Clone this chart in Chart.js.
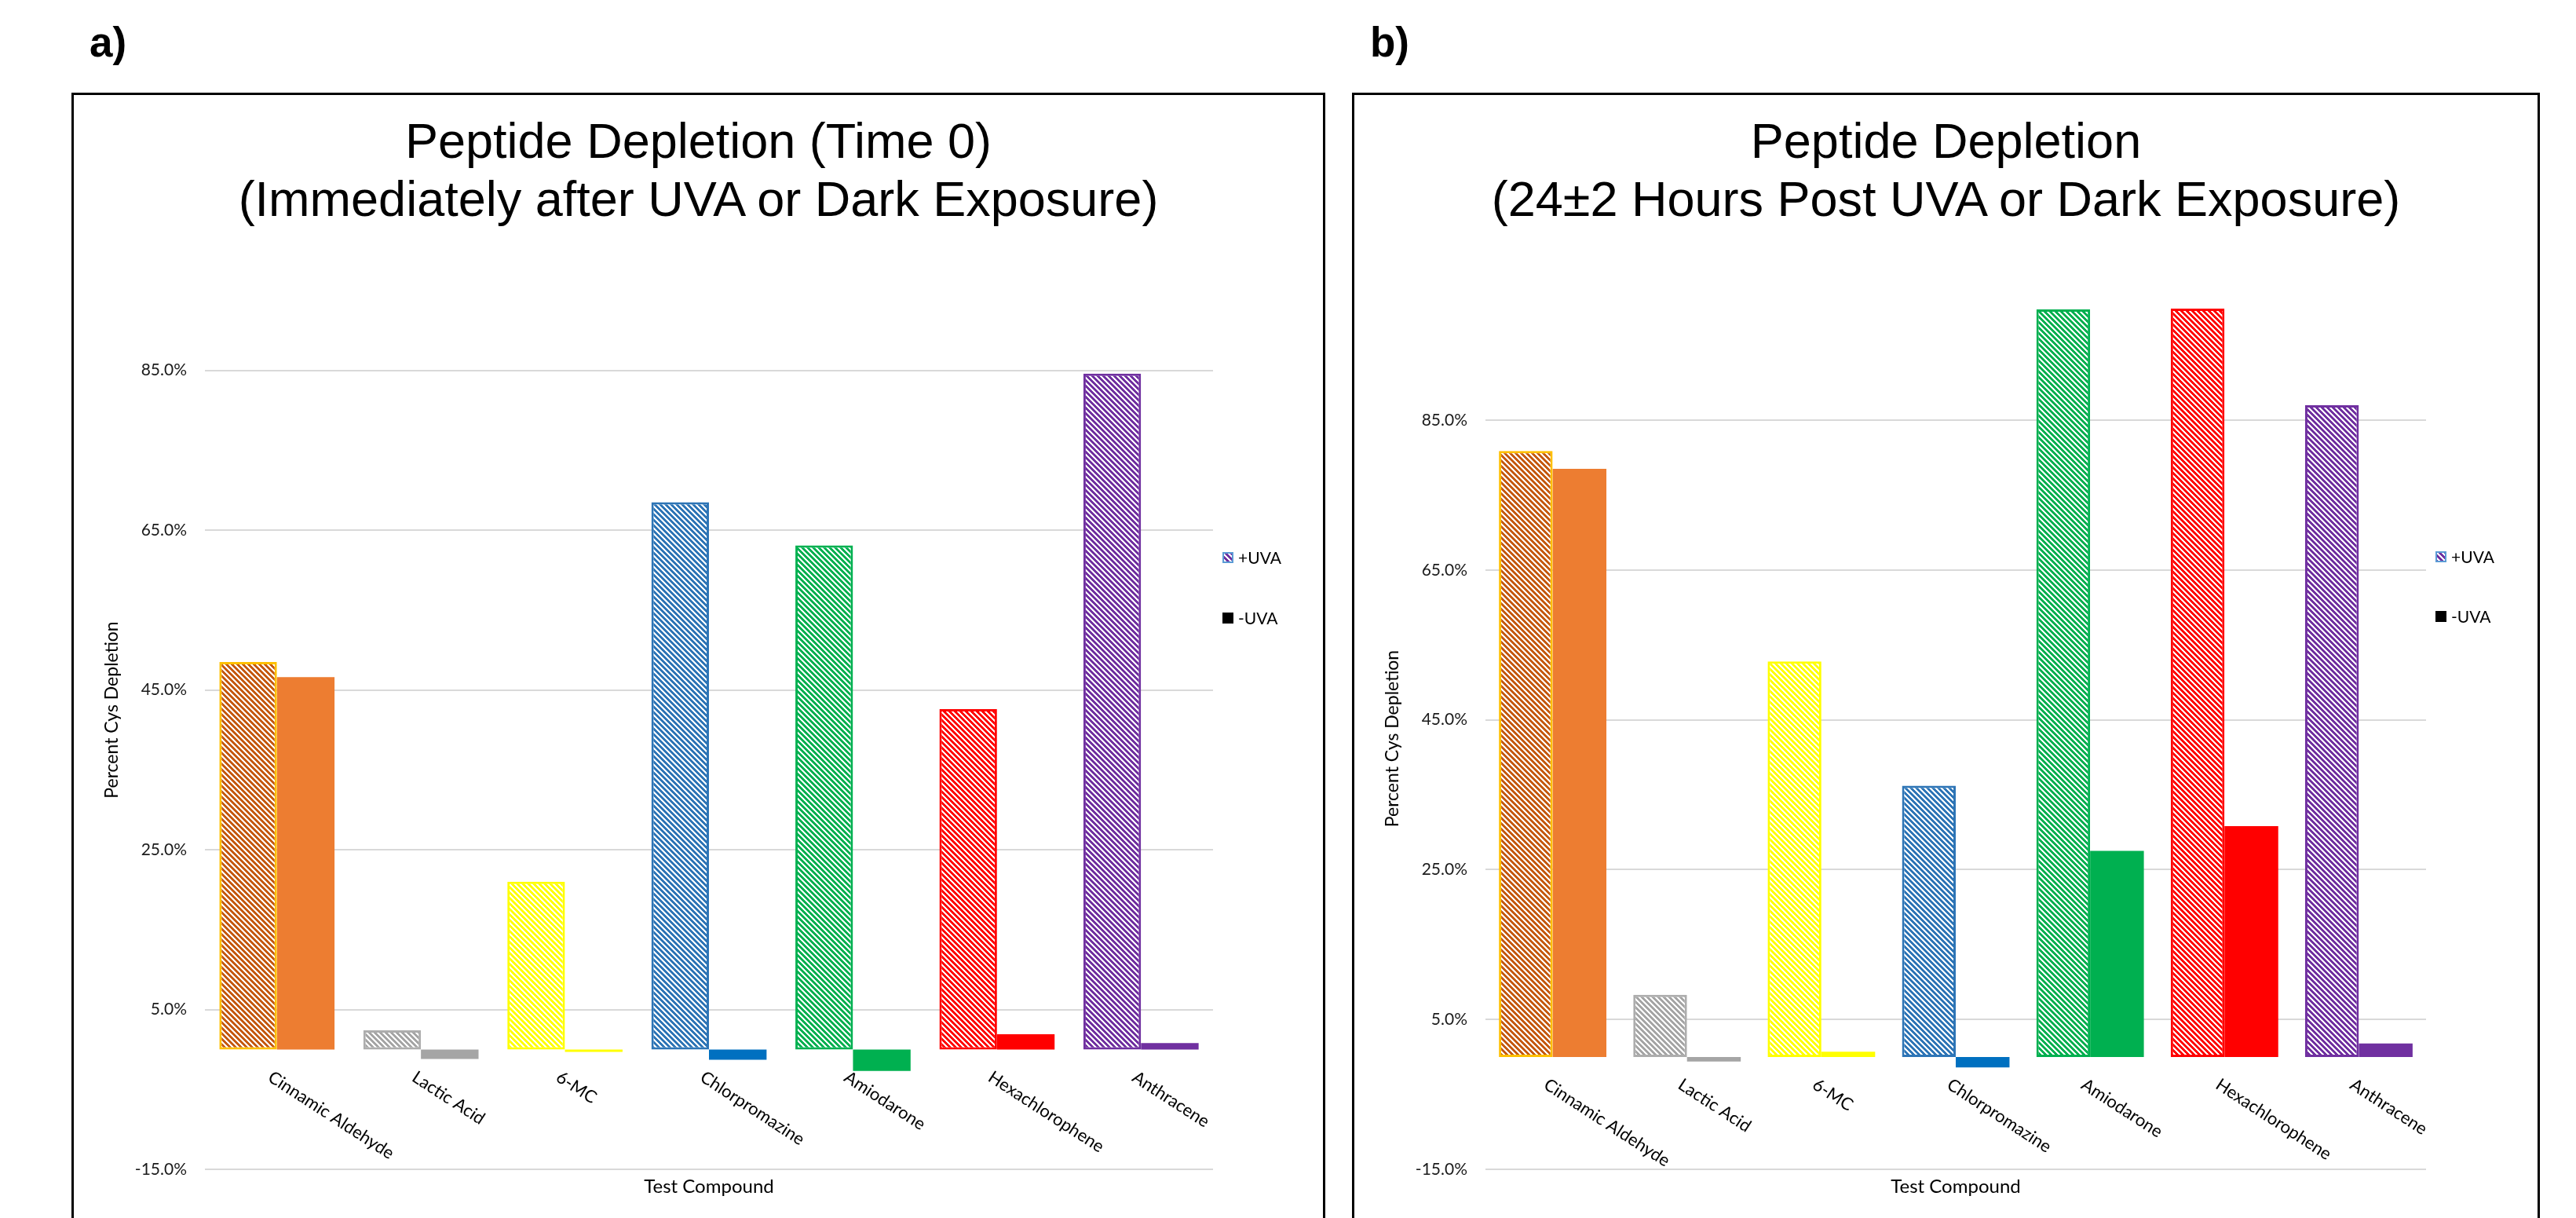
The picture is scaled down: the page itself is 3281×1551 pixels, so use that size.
<!DOCTYPE html>
<html>
<head>
<meta charset="utf-8">
<script src="https://cdn.jsdelivr.net/npm/chart.js@4.4.1/dist/chart.umd.min.js"></script>
<style>
  body { margin: 0; width: 3281px; height: 1551px; overflow: hidden; position: relative; background: #fff; font-family: "Liberation Sans", Arial, sans-serif; }
  .tag { position: absolute; top: 27px; font-size: 53px; font-weight: bold; line-height: 1; }
  .panel { position: absolute; top: 118px; height: 1460px; border: 3px solid #000; }
  .title { position: absolute; left: 0; right: 0; top: 21px; text-align: center; font-size: 63px; line-height: 74px; color: #000; }
  canvas { position: absolute; left: 0; top: 0; }
</style>
</head>
<body>
<div class="tag" style="left:114px">a)</div>
<div class="tag" style="left:1745px">b)</div>

<div class="panel" id="panelA" style="left:91px; width:1591px">
  <canvas id="chartA" width="1591" height="1430"></canvas>
  <div class="title">Peptide Depletion (Time 0)<br>(Immediately after UVA or Dark Exposure)</div>
</div>
<div class="panel" id="panelB" style="left:1722px; width:1507px">
  <canvas id="chartB" width="1507" height="1430"></canvas>
  <div class="title">Peptide Depletion<br>(24±2 Hours Post UVA or Dark Exposure)</div>
</div>

<script>
// data (percent Cys depletion)
const compounds = ['Cinnamic Aldehyde', 'Lactic Acid', '6-MC', 'Chlorpromazine', 'Amiodarone', 'Hexachlorophene', 'Anthracene'];
const plusUvaTime0 = [48.5, 2.4, 21.0, 68.5, 63.1, 42.6, 84.6];
const minusUvaTime0 = [46.6, -1.2, -0.3, -1.3, -2.7, 1.9, 0.8];
const plusUva24h = [80.9, 8.3, 52.8, 36.2, 99.8, 99.9, 87.0];
const minusUva24h = [78.5, -0.6, 0.7, -1.4, 27.5, 30.8, 1.8];
const yTicks = [-15, 5, 25, 45, 65, 85];
const seriesNames = ['+UVA', '-UVA'];

// colours per compound
const stripeColors = ['#C55A11', '#A5A5A5', '#FFFF00', '#2E75B6', '#00B050', '#FF0000', '#7030A0'];
const outlineColors = ['#FFC000', '#ADADAD', '#FFFF00', '#2E75B6', '#00B050', '#FF0000', '#7030A0'];
const solidColors = ['#ED7D31', '#A5A5A5', '#FFFF00', '#0070C0', '#00B050', '#FF0000', '#7030A0'];

Chart.defaults.font.family = 'Lato';
Chart.defaults.color = '#1a1a1a';

function hatch(ctx, color) {
  const n = 7;
  const c = document.createElement('canvas');
  c.width = n; c.height = n;
  const g = c.getContext('2d');
  g.fillStyle = '#fff';
  g.fillRect(0, 0, n, n);
  g.fillStyle = color;
  for (let y = 0; y < n; y++) {
    for (let x = 0; x < n; x++) {
      if ((((x - y) % n) + n) % n < 4) g.fillRect(x, y, 1, 1);
    }
  }
  return ctx.createPattern(c, 'repeat');
}

// rotated category labels, hanging from the zero line
const categoryLabels = {
  id: 'categoryLabels',
  afterDatasetsDraw(chart) {
    const { ctx, scales: { x, y } } = chart;
    const y0 = y.getPixelForValue(0);
    ctx.save();
    ctx.font = '22px Lato';
    ctx.fillStyle = '#000';
    ctx.textAlign = 'left';
    ctx.textBaseline = 'top';
    compounds.forEach((name, i) => {
      ctx.save();
      ctx.translate(x.getPixelForValue(i) - 3, y0 + 24);
      ctx.rotate(33 * Math.PI / 180);
      ctx.fillText(name, 0, 0);
      ctx.restore();
    });
    ctx.restore();
  }
};

// Excel-style legend to the right of the plot
const sideLegend = {
  id: 'sideLegend',
  afterDraw(chart, args, opts) {
    const { ctx } = chart;
    const lx = chart.chartArea.right + opts.dx;
    ctx.save();
    ctx.font = '21px Lato';
    ctx.textBaseline = 'middle';
    opts.rows.forEach((yy, i) => {
      if (i === 0) {
        ctx.fillStyle = hatch(ctx, '#7030A0');
        ctx.fillRect(lx, yy - 7, 14, 14);
        ctx.strokeStyle = '#5B9BD5';
        ctx.lineWidth = 2;
        ctx.strokeRect(lx + 1, yy - 6, 12, 12);
      } else {
        ctx.fillStyle = '#000';
        ctx.fillRect(lx, yy - 7, 14, 14);
      }
      ctx.fillStyle = '#000';
      ctx.fillText(seriesNames[i], lx + 20, yy + 1);
    });
    ctx.restore();
  }
};

function makeChart(id, plus, minus, pad, legendRows) {
  const canvas = document.getElementById(id);
  const ctx = canvas.getContext('2d');
  return new Chart(ctx, {
    type: 'bar',
    plugins: [categoryLabels, sideLegend],
    data: {
      labels: compounds,
      datasets: [
        {
          label: seriesNames[0],
          data: plus,
          backgroundColor: stripeColors.map(c => hatch(ctx, c)),
          borderColor: outlineColors,
          borderWidth: 3,
          borderSkipped: false,
          categoryPercentage: 0.8,
          barPercentage: 1.0
        },
        {
          label: seriesNames[1],
          data: minus,
          backgroundColor: solidColors,
          borderWidth: 0,
          categoryPercentage: 0.8,
          barPercentage: 1.0
        }
      ]
    },
    options: {
      responsive: false,
      animation: false,
      devicePixelRatio: 1,
      layout: { padding: pad },
      plugins: {
        legend: { display: false },
        tooltip: { enabled: false },
        sideLegend: { dx: 12, rows: legendRows }
      },
      scales: {
        x: {
          type: 'category',
          grid: { display: false },
          border: { display: false },
          ticks: { display: false },
          title: { display: true, text: 'Test Compound', font: { size: 24 }, color: '#000', padding: { top: 0, bottom: 13 } },
          afterFit: s => { s.height = 50; }
        },
        y: {
          min: -15,
          max: 100,
          afterBuildTicks: s => { s.ticks = yTicks.map(v => ({ value: v })); },
          ticks: {
            padding: 23,
            font: { size: 21 },
            color: '#1a1a1a',
            callback: v => v.toFixed(1) + '%'
          },
          grid: { color: '#D9D9D9', lineWidth: 2, drawTicks: false },
          border: { display: false },
          title: { display: true, text: 'Percent Cys Depletion', font: { size: 23 }, color: '#000', padding: { top: 35, bottom: 0 } },
          afterFit: s => { s.width = 167; }
        }
      }
    }
  });
}

makeChart('chartA', plusUvaTime0, minusUvaTime0, { left: 0, right: 140, top: 198, bottom: 12 }, [589, 666]);
makeChart('chartB', plusUva24h, minusUva24h, { left: 0, right: 142, top: 271, bottom: 12 }, [588, 664]);
</script>
</body>
</html>
